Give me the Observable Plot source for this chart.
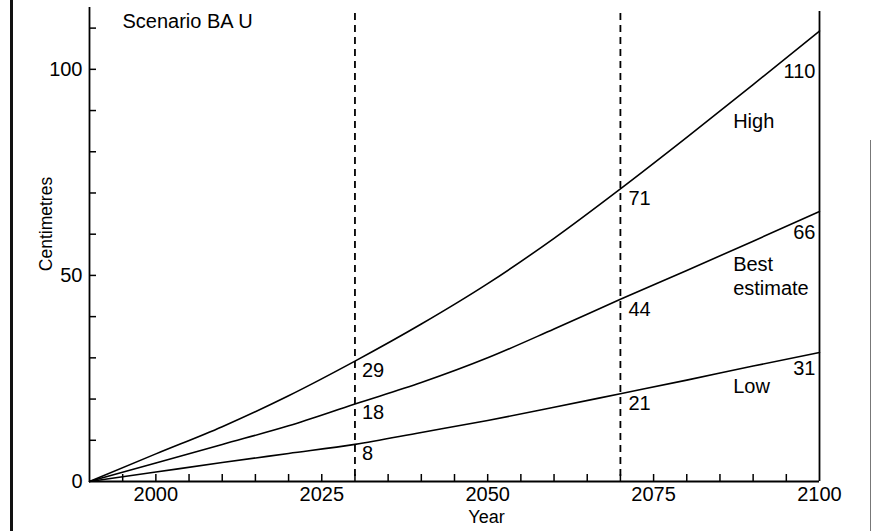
<!DOCTYPE html>
<html>
<head>
<meta charset="utf-8">
<script src="https://cdn.jsdelivr.net/npm/d3@7"></script>
<script src="https://cdn.jsdelivr.net/npm/@observablehq/plot@0.6"></script>
<style>
  html, body { margin: 0; padding: 0; background: #fff; }
  #wrap { position: relative; width: 873px; height: 531px; overflow: hidden; }
  #leftEdge { position: absolute; left: 10px; top: 0; width: 3px; height: 531px; background: #111; }
  #rightEdge { position: absolute; left: 870px; top: 140px; width: 1px; height: 391px; background: #777; }
  svg { position: absolute; left: 0; top: 0; }
</style>
</head>
<body>
<div id="wrap"><div id="leftEdge"></div><div id="rightEdge"></div></div>
<script>
// ---- Data ----
const years = [1990, 2000, 2010, 2020, 2030, 2040, 2050, 2060, 2070, 2080, 2090, 2100];
const highValues = [0, 6.7, 13.3, 20.8, 29.2, 38.2, 48, 59, 71, 83.5, 96.3, 109.3];
const bestValues = [0, 4.5, 9, 13.5, 18.8, 24, 30, 37, 44.2, 51.2, 58.3, 65.5];
const lowValues  = [0, 2.3, 4.6, 6.8, 9, 11.9, 14.8, 18, 21.3, 24.6, 28, 31.3];
const seriesNames = ["High", "Best estimate", "Low"];

const markerYears = [2030, 2070];
const labels2030 = ["29", "18", "8"];
const labels2070 = ["71", "44", "21"];
const labels2100 = ["110", "66", "31"];

const xLabelTicks = [2000, 2025, 2050, 2075, 2100];
const xMinorTicks = [1995, 2000, 2005, 2010, 2015, 2020, 2025, 2030, 2035, 2040, 2045, 2050, 2055, 2060, 2065, 2070, 2075, 2080, 2085, 2090, 2095];
const yLabelTicks = [0, 50, 100];
const yMinorTicks = [10, 20, 30, 40, 50, 60, 70, 80, 90, 100, 110];
const scenarioLabel = "Scenario BA U";
const xTitle = "Year";
const yTitle = "Centimetres";

// ---- Build tidy table ----
const seriesValues = [highValues, bestValues, lowValues];
const rows = [];
seriesNames.forEach((name, i) => {
  years.forEach((yr, j) => rows.push({series: name, year: yr, value: seriesValues[i][j]}));
});
const pointAt = (si, yr) => ({series: seriesNames[si], year: yr, value: seriesValues[si][years.indexOf(yr)]});
const lab2030 = labels2030.map((t, i) => ({...pointAt(i, markerYears[0]), text: t}));
const lab2070 = labels2070.map((t, i) => ({...pointAt(i, markerYears[1]), text: t}));
const lab2100 = labels2100.map((t, i) => ({...pointAt(i, years[years.length - 1]), text: t}));
const nameAt = seriesNames.map((n, i) => ({...pointAt(i, 2090), text: n === "Best estimate" ? "Best\nestimate" : n}));

const W = 873, H = 531;
const mL = 89, mR = 54, mT = 7, mB = 50;
const frameW = W - mL - mR, frameH = H - mT - mB;
const font = "Liberation Sans, Arial, Helvetica, sans-serif";
const fs = 20;
const endDy = [41, 21.5, 16];
const nameDy = [36, 34, 19.5];

const chart = Plot.plot({
  width: W, height: H,
  marginLeft: mL, marginRight: mR, marginTop: mT, marginBottom: mB,
  style: {fontFamily: font, fontSize: fs + "px", color: "#000", background: "transparent"},
  x: {domain: [1990, 2100], label: null},
  y: {domain: [0, 115], label: null},
  marks: [
    Plot.axisX({ticks: xLabelTicks, tickSize: 0, tickPadding: 5, tickFormat: d => String(d), fontSize: fs, label: null}),
    Plot.axisY({ticks: yLabelTicks, tickSize: 0, tickPadding: 7, tickFormat: d => String(d), fontSize: fs, label: null}),
    Plot.tickX(xMinorTicks, {x: d => d, insetTop: frameH - 7, stroke: "#000", strokeWidth: 1.5}),
    Plot.tickY(yMinorTicks, {y: d => d, insetRight: frameW - 7, stroke: "#000", strokeWidth: 1.5}),
    Plot.ruleX(markerYears, {stroke: "#000", strokeWidth: 1.8, strokeDasharray: "7,5", insetTop: 6}),
    Plot.ruleX([1990], {stroke: "#000", strokeWidth: 1.8}),
    Plot.ruleX([2100], {stroke: "#000", strokeWidth: 1.8, insetTop: 4}),
    Plot.ruleY([0], {stroke: "#000", strokeWidth: 2}),
    Plot.line(rows, {x: "year", y: "value", z: "series", curve: "monotone-x", stroke: "#000", strokeWidth: 1.6}),
    Plot.text(lab2030, {x: "year", y: "value", text: "text", textAnchor: "start", dx: 7, dy: 9, fontSize: fs, fill: "#000"}),
    Plot.text(lab2070, {x: "year", y: "value", text: "text", textAnchor: "start", dx: 8, dy: 10, fontSize: fs, fill: "#000"}),
    ...lab2100.map((d, i) => Plot.text([d], {x: "year", y: "value", text: "text", textAnchor: "end", dx: -4, dy: endDy[i], fontSize: fs, fill: "#000"})),
    ...nameAt.map((d, i) => Plot.text([d], {x: "year", y: "value", text: "text", textAnchor: "start", dx: -20, dy: nameDy[i], lineHeight: 1.18, fontSize: fs, fill: "#000"})),
    Plot.text([scenarioLabel], {frameAnchor: "top-left", text: d => d, textAnchor: "start", lineAnchor: "middle", dx: 33, dy: 14.5, fontSize: fs, fill: "#000"}),
    Plot.text([xTitle], {frameAnchor: "bottom", text: d => d, lineAnchor: "middle", dx: 32, dy: 36, fontSize: 18, fill: "#000"}),
    Plot.text([yTitle], {frameAnchor: "left", text: d => d, rotate: -90, textAnchor: "middle", lineAnchor: "middle", dx: -43.5, dy: -20.5, fontSize: 17.5, fill: "#000"})
  ]
});
document.getElementById("wrap").appendChild(chart);
</script>
</body>
</html>
